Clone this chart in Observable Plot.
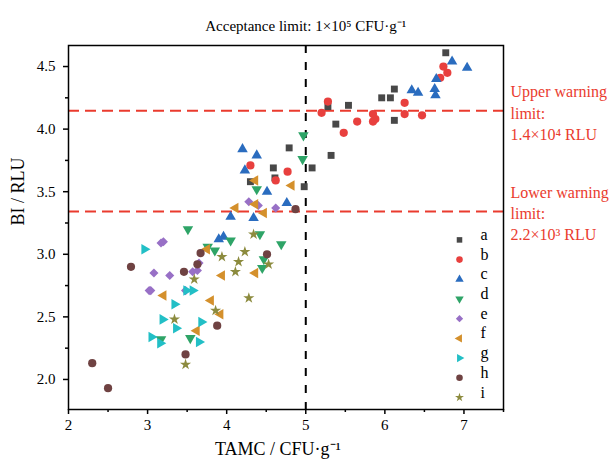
<!DOCTYPE html>
<html><head><meta charset="utf-8">
<script src="https://cdn.jsdelivr.net/npm/d3@7"></script>
<script src="https://cdn.jsdelivr.net/npm/@observablehq/plot@0.6"></script>
<style>body{margin:0;background:#fff}</style>
</head><body><div id="chart"></div>
<script>
// ---- data ----
const seriesNames = ["a","b","c","d","e","f","g","h","i"];
const a_x = [6.77, 5.28, 5.54, 5.38, 5.96, 6.07, 6.12, 6.12, 5.32, 5.08, 4.79, 4.59, 4.61, 4.30, 4.98];
const a_y = [4.61, 4.18, 4.19, 4.04, 4.25, 4.25, 4.32, 4.07, 3.79, 3.69, 3.85, 3.69, 3.61, 3.58, 3.54];
const b_x = [6.74, 6.79, 6.70, 6.25, 6.25, 6.47, 5.28, 5.20, 5.48, 5.65, 5.85, 5.88, 5.85, 4.30, 4.77, 4.62];
const b_y = [4.50, 4.45, 4.41, 4.21, 4.12, 4.11, 4.22, 4.13, 3.97, 4.06, 4.12, 4.08, 4.06, 3.71, 3.66, 3.59];
const c_x = [6.85, 7.04, 6.65, 6.34, 6.42, 6.63, 6.64, 4.20, 4.38, 4.23, 4.51, 4.76, 4.05, 4.34, 3.90, 3.96];
const c_y = [4.54, 4.49, 4.40, 4.31, 4.29, 4.32, 4.27, 3.84, 3.79, 3.67, 3.50, 3.41, 3.30, 3.29, 3.12, 3.14];
const d_x = [4.97, 4.96, 4.38, 4.42, 4.05, 4.69, 3.76, 3.85, 4.47, 4.45, 3.51, 3.17, 3.54];
const d_y = [3.95, 3.76, 3.52, 3.16, 3.11, 3.08, 3.06, 3.03, 2.96, 2.89, 3.20, 2.32, 2.33];
const e_x = [3.17, 3.20, 3.08, 3.28, 3.02, 3.04, 3.65, 3.57, 3.63, 3.48, 4.28, 4.40, 4.62];
const e_y = [3.09, 3.10, 2.85, 2.83, 2.71, 2.71, 2.93, 2.86, 2.87, 2.71, 3.42, 3.39, 3.37];
const f_x = [4.36, 4.82, 4.36, 4.11, 4.47, 3.75, 3.94, 4.36, 3.20, 3.80, 3.92, 3.62];
const f_y = [3.59, 3.55, 3.40, 3.37, 3.33, 3.04, 2.83, 2.85, 2.67, 2.63, 2.52, 2.39];
const g_x = [2.96, 3.49, 3.57, 3.34, 3.19, 3.36, 3.68, 3.05, 3.16, 3.65];
const g_y = [3.04, 2.71, 2.71, 2.60, 2.48, 2.41, 2.46, 2.34, 2.29, 2.30];
const h_x = [3.67, 3.63, 2.79, 3.46, 3.88, 3.48, 2.30, 2.50, 4.87, 4.51];
const h_y = [3.01, 2.92, 2.90, 2.86, 2.43, 2.20, 2.13, 1.93, 3.36, 3.00];
const i_x = [4.34, 4.23, 3.94, 4.15, 4.11, 3.59, 4.28, 3.86, 3.34, 4.53, 3.48];
const i_y = [3.16, 3.02, 2.98, 2.94, 2.86, 2.80, 2.65, 2.55, 2.48, 2.92, 2.12];

const acceptanceX = 5;
const warningLevels = [4.146, 3.342];
const warningTexts = ["Upper warning\nlimit:\n1.4×10⁴ RLU", "Lower warning\nlimit:\n2.2×10³ RLU"];
const titleText = "Acceptance limit: 1×10⁵ CFU·g⁻¹";
const xLabel = "TAMC / CFU·g⁻¹";
const yLabel = "BI / RLU";
const xMajor = [2, 3, 4, 5, 6, 7];
const xMinor = [2.5, 3.5, 4.5, 5.5, 6.5, 7.5];
const yMajor = [2.0, 2.5, 3.0, 3.5, 4.0, 4.5];
const yMinor = [2.25, 2.75, 3.25, 3.75, 4.25];

// ---- symbols ----
const sqrt3 = Math.sqrt(3);
function triangle(angleDeg) {
  const a = angleDeg * Math.PI / 180, c = Math.cos(a), s = Math.sin(a);
  return {draw(ctx, size) {
    const y = -Math.sqrt(size / (sqrt3 * 3));
    const pts = [[0, 2 * y], [-sqrt3 * y, -y], [sqrt3 * y, -y]].map(([px, py]) => [px * c - py * s, px * s + py * c]);
    ctx.moveTo(pts[0][0], pts[0][1]);
    ctx.lineTo(pts[1][0], pts[1][1]);
    ctx.lineTo(pts[2][0], pts[2][1]);
    ctx.closePath();
  }};
}

const xsAll = [a_x, b_x, c_x, d_x, e_x, f_x, g_x, h_x, i_x];
const ysAll = [a_y, b_y, c_y, d_y, e_y, f_y, g_y, h_y, i_y];
const colors = ["#484848", "#e8403e", "#2a6cbf", "#2ea467", "#9870c6", "#d4902c", "#22bfc6", "#6f4242", "#8c8b3e"];
const symbols = ["square", "circle", triangle(0), triangle(180), "diamond2", triangle(270), triangle(90), "circle", "star"];
const radii = [3.9, 4.1, 3.9, 3.9, 4.1, 3.9, 3.9, 4.1, 3.5];

const points = seriesNames.flatMap((name, k) => xsAll[k].map((x, j) => ({series: name, x, y: ysAll[k][j]})));

const red = "#ea3b2e";
const serif = "Liberation Serif, Times New Roman, serif";

const marks = [
  Plot.ruleY(warningLevels, {stroke: red, strokeWidth: 2, strokeDasharray: "11,6"}),
  Plot.ruleX([acceptanceX], {stroke: "black", strokeWidth: 2, strokeDasharray: "8,9"}),
];
seriesNames.forEach((name, k) => {
  marks.push(Plot.dot(points.filter(d => d.series === name), {x: "x", y: "y", symbol: symbols[k], fill: colors[k], r: radii[k]}));
});
// legend
seriesNames.forEach((name, k) => {
  const dy = -(12 + (seriesNames.length - 1 - k) * 19.7);
  marks.push(Plot.dot([name], {frameAnchor: "bottom-right", dx: -44, dy, symbol: symbols[k], fill: colors[k], r: radii[k] * 0.8}));
  marks.push(Plot.text([name], {frameAnchor: "bottom-right", dx: -23, dy, text: d => d, textAnchor: "start", fontSize: 16, fill: "black"}));
});
marks.push(
  Plot.axisX(xMajor, {tickSize: 5, tickPadding: 5, fontSize: 15, strokeWidth: 1.5, label: null, tickFormat: d3.format("d")}),
  Plot.axisX(xMinor, {tickSize: 3, strokeWidth: 1.5, label: null, tickFormat: () => ""}),
  Plot.axisY(yMajor, {tickSize: 5, tickPadding: 8, fontSize: 15, strokeWidth: 1.5, label: null, tickFormat: d3.format(".1f")}),
  Plot.axisY(yMinor, {tickSize: 3, strokeWidth: 1.5, label: null, tickFormat: () => ""}),
  Plot.text(warningTexts, {frameAnchor: "right", y: warningLevels, text: d => d, dx: 7, dy: 1, textAnchor: "start", lineAnchor: "middle", lineHeight: 1.32, fontSize: 16, fill: red}),
  Plot.text([titleText], {x: [acceptanceX], frameAnchor: "top", dy: -25, text: d => d, fontSize: 15, fill: "black"}),
  Plot.text([xLabel], {frameAnchor: "bottom", dx: -8, dy: 45, text: d => d, fontSize: 18, fill: "black"}),
  Plot.text([yLabel], {frameAnchor: "left", dx: -50, dy: -2, rotate: -90, text: d => d, fontSize: 18, fill: "black"}),
  Plot.frame({stroke: "black", strokeWidth: 1.5})
);

const chart = Plot.plot({
  width: 610, height: 464,
  marginLeft: 68, marginRight: 107, marginTop: 45, marginBottom: 55,
  x: {domain: [2, 7.5]},
  y: {domain: [1.76, 4.668]},
  style: {fontFamily: serif, fontSize: "15px", color: "black", background: "white", overflow: "visible"},
  marks
});
document.getElementById("chart").appendChild(chart);
</script>
</body></html>
